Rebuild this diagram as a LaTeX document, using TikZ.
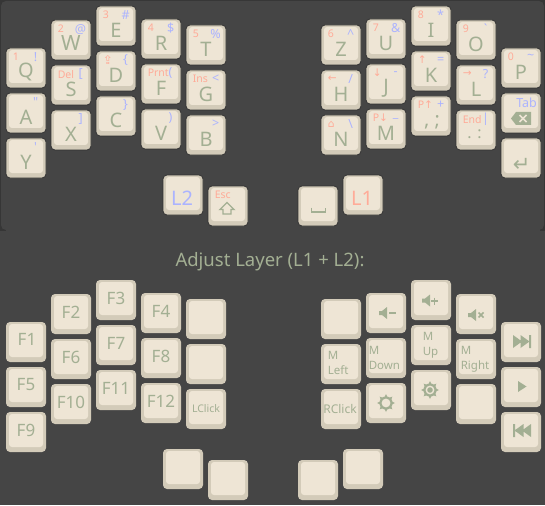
\documentclass[tikz,border=0pt]{standalone}
\usepackage{fontspec}
\setmainfont{Noto Sans}
\newfontfamily\symfont{DejaVu Sans}
\definecolor{panelbg}{HTML}{454545}
\definecolor{paneledge}{HTML}{363636}
\definecolor{capline}{HTML}{333333}
\definecolor{capedge}{HTML}{D3CBB9}
\definecolor{capface}{HTML}{EEE5D5}
\definecolor{legend}{HTML}{A3AF93}
\definecolor{legendred}{HTML}{FFAB98}
\definecolor{legendblue}{HTML}{ABB3FF}
\tikzset{
	keycap/.style={rectangle,draw=capline,line width=0.8pt,fill=capedge,rounded corners=4pt,minimum size=40pt,inner sep=0pt,
		path picture={\fill[capface,rounded corners=3pt] ([shift={(3,2)}]path picture bounding box.north west) rectangle ([shift={(-3,-5)}]path picture bounding box.south east);}},
	plaincap/.style={keycap,draw=none},
	mainlabel/.style={text=legend,inner sep=0pt,font=\fontsize{20}{24}\selectfont},
	punctlabel/.style={mainlabel,text height=8pt,text depth=3pt},
	fnlabel/.style={text=legend,inner sep=0pt,font=\fontsize{17}{20}\selectfont},
	smalllabel/.style={text=legend,inner sep=0pt,align=left,font=\fontsize{11.5}{15}\selectfont},
	redlabel/.style={text=legendred,inner sep=0pt,anchor=west,font=\fontsize{10.5}{12}\selectfont},
	bluelabel/.style={text=legendblue,inner sep=0pt,font=\fontsize{12.5}{13}\selectfont},
	iconfill/.style={fill=legend,draw=none},
	iconline/.style={draw=legend,line width=1.4pt},
	speakericon/.pic={\fill[iconfill] (0,-2) -- (3,-2) -- (8,-6) -- (8,6) -- (3,2) -- (0,2) -- cycle;},
	sunicon/.pic={\fill[iconfill] (0,0) circle (6.6);
		\foreach \a in {0,45,...,315} {\fill[iconfill] (\a+14:6) -- (\a:9) -- (\a-14:6) -- cycle;}
		\fill[capface] (0,0) circle (4.4);}
}
\begin{document}
\begin{tikzpicture}[x=1pt,y=-1pt]
	\fill[panelbg] (0,0) rectangle (545,505);
	\fill[paneledge] (0,0) rectangle (545,231);
	\fill[panelbg,rounded corners=5pt] (1,1) rectangle (544,230);
	\fill[panelbg] (6,225) rectangle (540,232);

	% base layer
	\foreach \nm/\x/\y in {kq/6/48,ka/6/93,ky/6/138,kw/51/20,ks/51/65,kx/51/110,ke/96/6,kd/96/51,kc/96/96,
		kr/141/19,kf/141/64,kv/141/109,kt/186/25,kg/186/70,kb/186/115,kltwo/163/175,kesc/208/186,
		kz/321/25,kh/321/70,kn/321/115,ku/366/19,kj/366/64,km/366/109,ki/411/6,kk/411/51,ksemi/411/96,
		ko/456/20,kl/456/65,kcolon/456/110,kp/501/48,kbsp/501/93,kret/501/138,kspace/298/186,klone/343/175}
		\node at (\x+20,\y+20) [keycap] (\nm) {};

	\foreach \nm/\txt in {kq/Q,ka/A,ky/Y,ks/S,kx/X,ke/E,kd/D,kc/C,kr/R,kf/F,kv/V,kt/T,kg/G,kb/B,
		kz/Z,kh/H,kn/N,ku/U,kj/J,km/M,ki/I,kk/K,ko/O,kl/L,kp/P}
		\node at ([shift={(0,4)}]\nm.center) [mainlabel] (\nm-main) {\txt};
	\node at ([shift={(0,3)}]kw.center) [mainlabel,font=\fontsize{21}{24}\selectfont] (kw-main) {W};
	\node at ([shift={(1,8.5)}]ksemi.center) [punctlabel] (ksemi-main) {, ;};
	\node at ([shift={(-1.5,6.5)}]kcolon.center) [punctlabel,font=\fontsize{16}{20}\selectfont,text height=7pt,text depth=2pt] (kcolon-main) {. :};
	\node at ([shift={(-1,3)}]kltwo.center) [mainlabel,text=legendblue] (kltwo-main) {L2};
	\node at ([shift={(-1,3)}]klone.center) [mainlabel,text=legendred] (klone-main) {L1};

	\foreach \nm/\txt in {kq/1,kw/2,ke/3,kr/4,kt/5,ks/Del,kf/Prnt,kg/Ins,kesc/Esc,kz/6,ku/7,ki/8,ko/9,kp/0,kcolon/End,
		kd/{\symfont\fontsize{12}{12}\selectfont ⇪},kh/{\symfont ←},kj/{\symfont ↓},kk/{\symfont ↑},kl/{\symfont →},kn/{\symfont ⌂},
		km/{P\symfont ↓},ksemi/{P\symfont ↑}}
		\node at ([shift={(7,9.5)}]\nm.north west) [redlabel] (\nm-red) {\txt};

	\foreach \nm/\txt in {kq/!,kw/@,ke/\#,kr/\$,kt/\%,ks/[,kd/\{,kf/(,kg/<,ka/\textquotedbl,kx/],kc/\},kv/),kb/>,ky/\textquotesingle,
		kz/\textasciicircum,ku/\&,ki/*,ko/\textasciigrave,kp/\textasciitilde,kh/{/},kj/-,kk/=,kl/?,kn/\textbackslash,km/\_,ksemi/+,kcolon/|}
		\node at ([shift={(30,9.5)}]\nm.north west) [bluelabel] (\nm-blue) {\txt};
	\node at ([shift={(26,10)}]kbsp.north west) [bluelabel] (kbsp-blue) {Tab};

	% icons on the base layer
	\draw[iconline,line join=miter] (227,202.5) -- (234,209.5) -- (231,209.5) -- (231,214) -- (223,214) -- (223,209.5) -- (220,209.5) -- cycle;
	\draw[iconline] (311.5,207.5) -- (311.5,212) -- (325.5,212) -- (325.5,207.5);
	\node at ([shift={(21,27)}]kret.north west) [mainlabel,font=\symfont\fontsize{21}{22}\selectfont] (kret-icon) {↵};
	\fill[iconfill] (511,118.5) -- (516,112) -- (531,112) -- (531,125) -- (516,125) -- cycle;
	\draw[capface,line width=1.6pt] (519.5,115) -- (526.5,122) (526.5,115) -- (519.5,122);

	\node at (270,262) [text=legend,font=\fontsize{18.5}{22}\selectfont] (title) {Adjust Layer (L1 + L2):};

	% adjust layer
	\foreach \nm/\x/\y in {aq/6/322,aa/6/367,ay/6/412,aw/51/294,as/51/339,ax/51/384,ae/96/280,ad/96/325,ac/96/370,
		ar/141/293,af/141/338,av/141/383,at/186/299,ag/186/344,ab/186/389,altwo/163/449,aesc/208/460,
		az/321/299,ah/321/344,an/321/389,au/366/293,aj/366/338,am/366/383,ai/411/280,ak/411/325,asemi/411/370,
		ao/456/294,al/456/339,acolon/456/384,ap/501/322,abar/501/367,aret/501/412,aspace/298/460,alone/343/449}
		\node at (\x+20,\y+20) [plaincap] (\nm) {};

	\foreach \nm/\txt in {aw/F2,as/F6,ax/F10,ae/F3,ad/F7,ac/F11,ar/F4,af/F8,av/F12,aa/F5,ay/F9}
		\node at ([shift={(0,-2)}]\nm.center) [fnlabel] (\nm-main) {\txt};
	\node at ([shift={(1,-3)}]aq.center) [fnlabel] (aq-main) {F1};

	\node at ([shift={(0,0)}]ab.center) [smalllabel,font=\fontsize{10.5}{12}\selectfont] (ab-main) {LClick};
	\node at ([shift={(-1,0)}]an.center) [smalllabel,font=\fontsize{12}{12}\selectfont] (an-main) {RClick};
	\node at ([shift={(7,19.5)}]ah.north west) [smalllabel,anchor=west] (ah-main) {M\\Left};
	\node at ([shift={(3,20.5)}]aj.north west) [smalllabel,anchor=west] (aj-main) {M\\Down};
	\node at ([shift={(12,20.5)}]ak.north west) [smalllabel,anchor=west] (ak-main) {M\\Up};
	\node at ([shift={(5,20.5)}]al.north west) [smalllabel,anchor=west] (al-main) {M\\Right};

	\pic at (379,313) {speakericon};
	\fill[iconfill] (389,312.2) rectangle (395.5,313.8);
	\pic at (422,300.5) {speakericon};
	\draw[legend,line width=1.5pt] (431,301) -- (438,301) (434.5,297.5) -- (434.5,304.5);
	\pic at (468,315) {speakericon};
	\draw[legend,line width=1.5pt] (478.5,312.5) -- (483.5,317.5) (483.5,312.5) -- (478.5,317.5);

	\pic at (386,403) {sunicon};
	\pic at (430,390) {sunicon};
	\fill[iconfill] (430,390) circle (2.8);

	\fill[iconfill] (513,335) -- (522,341.5) -- (513,348) -- cycle (520.5,335) -- (529.5,341.5) -- (520.5,348) -- cycle (529,335) rectangle (531,348);
	\fill[iconfill] (518,381) -- (526.5,386.5) -- (518,392) -- cycle;
	\fill[iconfill] (531,424) -- (522,430.5) -- (531,437) -- cycle (523.5,424) -- (514.5,430.5) -- (523.5,437) -- cycle (513,424) rectangle (515,437);
\end{tikzpicture}
\end{document}
